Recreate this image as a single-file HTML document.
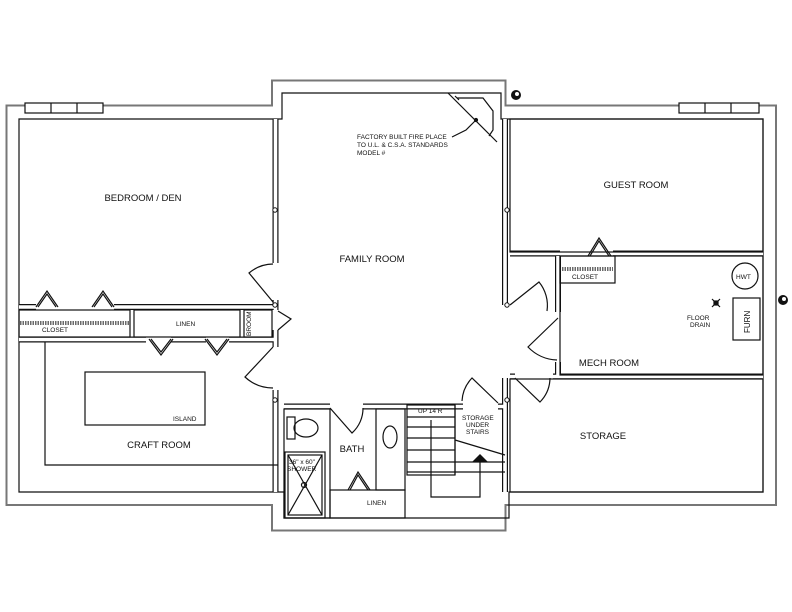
<!DOCTYPE html>
<html><head><meta charset="utf-8"><style>
html,body{margin:0;padding:0;background:#fff;}
svg{display:block;}
text{font-family:"Liberation Sans",sans-serif;fill:#111;}
</style></head><body>
<svg width="792" height="612" viewBox="0 0 792 612" xmlns="http://www.w3.org/2000/svg">
<defs>
<path id="walls" d="M275.5,119 V263 M275.5,300 V310 M275.5,330 V347 M275.5,390 V492
M505,119 V305 M505,378 V492
M19,307 H36 M114,307 H275
M19,339.5 H146 M171,339.5 H206 M229,339.5 H276
M284,406.5 H330 M363,406.5 H463 M498,406.5 H505
M558,256 V312 M558,362 V376
M510,376.5 H515 M553,376.5 H763
M510,253.5 H560 M613,253.5 H763"/>
</defs>
<path d="M11,110 H276.5 V85 H501 V110 H771.5 V500.5 H501 V526 H276.5 V500.5 H11 Z" fill="none" stroke="#777" stroke-width="11"/>
<path d="M11,110 H276.5 V85 H501 V110 H771.5 V500.5 H501 V526 H276.5 V500.5 H11 Z" fill="#fff" stroke="#fff" stroke-width="7"/>
<path d="M19,119 H282 V93 H501 V119 H763 V492 H509 V518 H284 V492 H19 Z" fill="none" stroke="#111" stroke-width="1.2"/>
<use href="#walls" stroke="#111" stroke-width="6" fill="none"/>
<use href="#walls" stroke="#fff" stroke-width="3.6" fill="none"/>

<g fill="none" stroke="#111" stroke-width="1.2">
<rect x="25" y="103" width="78" height="10" fill="#fff"/>
<line x1="51" y1="103" x2="51" y2="113"/><line x1="77" y1="103" x2="77" y2="113"/>
<rect x="679" y="103" width="80" height="10" fill="#fff"/>
<line x1="705" y1="103" x2="705" y2="113"/><line x1="731" y1="103" x2="731" y2="113"/>
<rect x="19" y="310" width="111" height="27"/>
<line x1="20" y1="322" x2="129" y2="322" stroke-dasharray="1.5,1"/>
<line x1="20" y1="324" x2="129" y2="324" stroke-dasharray="1.5,1"/>
<rect x="134" y="310" width="106" height="27"/>
<rect x="244" y="310" width="28" height="27"/>
<path d="M36,307 L47,291 L58,307 M38,307 L47,294 L56,307"/>
<path d="M92,307 L103,291 L114,307 M94,307 L103,294 L112,307"/>
<path d="M149,339 L161,355 L173,339 M151,339 L161,352 L171,339"/>
<path d="M205,339 L217,355 L229,339 M207,339 L217,352 L227,339"/>
<path d="M588,256 L599,238 L611,256 M590,256 L599,241 L609,256"/>
<path d="M348,490 L358,472 L370,490 M350,490 L358,475 L368,490"/>
<rect x="560" y="256" width="55" height="27"/>
<line x1="562" y1="268" x2="613" y2="268" stroke-dasharray="1.5,1"/>
<line x1="562" y1="270" x2="613" y2="270" stroke-dasharray="1.5,1"/>
<path d="M45,342 V465 H278"/>
<rect x="85" y="372" width="120" height="53"/>
<rect x="560" y="256" width="203" height="119"/>
<rect x="510" y="379" width="253" height="113"/>
<rect x="510" y="119" width="253" height="133"/>
<circle cx="745" cy="276" r="13"/>
<rect x="733" y="298" width="27" height="42"/>
<path d="M712,299 L720,307 M720,299 L712,307"/>
<rect x="714" y="301" width="4" height="4" fill="#111"/>
<rect x="284" y="409" width="46" height="109"/>
<rect x="285" y="452" width="40" height="66"/>
<rect x="288" y="455" width="34" height="60"/>
<path d="M288,455 L322,515 M322,455 L288,515"/>
<circle cx="304" cy="485" r="2.5"/>
<rect x="287" y="417" width="8" height="22"/>
<ellipse cx="306" cy="428" rx="12" ry="9"/>
<rect x="376" y="409" width="29" height="81"/>
<ellipse cx="390" cy="437" rx="7" ry="11"/>
<rect x="330" y="490" width="75" height="28"/>
<rect x="407" y="405" width="48" height="70"/>
<path d="M407,417 H455 M407,427 H455 M407,438 H455 M407,450 H455 M407,462 H505 M407,472 H505"/>
<path d="M431,420 V497 H480 V458"/>
<path d="M455,405 V475 M455,440 L505,455"/>
<!-- doors -->
<path d="M273,302 L249,273 A38,38 0 0 1 273,264"/>
<path d="M278,311 L291,319 L278,330"/>
<path d="M273,347 L245,377 A41,41 0 0 0 273,388"/>
<path d="M330,408 L352,433 A33,33 0 0 0 363,408"/>
<path d="M498,403 L472,378 A36,36 0 0 0 462,401"/>
<path d="M510,305 L539,282 A37,37 0 0 1 547,311"/>
<path d="M558,318 L528,347 A42,42 0 0 0 557,360"/>
<path d="M515,378 L540,402 A35,35 0 0 0 550,378"/>
<path d="M448,93 L497,142"/>
<path d="M457,98 L483,98 L493,111 L493,130 L489,136 M455,96 L459,100"/>
<path d="M476,120 L466,130 L452,137"/>
<circle cx="476" cy="120" r="1.5" fill="#111"/>
</g>
<g fill="#fff" stroke="#111" stroke-width="1">
<circle cx="275" cy="210" r="2.2"/><circle cx="275" cy="305" r="2.2"/><circle cx="275" cy="400" r="2.2"/>
<circle cx="507" cy="210" r="2.2"/><circle cx="507" cy="305" r="2.2"/><circle cx="507" cy="400" r="2.2"/>
</g>
<circle cx="516" cy="95" r="5" fill="#111"/><circle cx="517" cy="94" r="2" fill="#fff"/>
<circle cx="783" cy="300" r="5" fill="#111"/><circle cx="784" cy="299" r="2" fill="#fff"/>

<g font-size="9.5" text-anchor="middle">
<text x="143" y="201">BEDROOM / DEN</text>
<text x="372" y="262">FAMILY ROOM</text>
<text x="636" y="188">GUEST ROOM</text>
<text x="159" y="448">CRAFT ROOM</text>
<text x="352" y="452">BATH</text>
<text x="609" y="366">MECH ROOM</text>
<text x="603" y="439">STORAGE</text>
</g>
<g font-size="6.5">
<text x="357" y="139">FACTORY BUILT FIRE PLACE</text>
<text x="357" y="147">TO U.L. &amp; C.S.A. STANDARDS</text>
<text x="357" y="155">MODEL #</text>
<text x="42" y="332">CLOSET</text>
<text x="176" y="326">LINEN</text>
<text x="173" y="421">ISLAND</text>
<text x="572" y="279">CLOSET</text>
<text x="736" y="279">HWT</text>
<text x="687" y="320">FLOOR</text>
<text x="690" y="327">DRAIN</text>
<text x="367" y="505">LINEN</text>
<text x="418" y="413">UP 14 R</text>
<text x="462" y="420">STORAGE</text>
<text x="466" y="427">UNDER</text>
<text x="466" y="434">STAIRS</text>
<text x="289" y="464">36" x 60"</text>
<text x="287" y="471">SHOWER</text>
<text transform="translate(251,336) rotate(-90)">BROOM</text>
<text font-size="8" transform="translate(750,333) rotate(-90)">FURN</text>
</g>
<polygon points="472,462 480,454 488,462" fill="#111"/>
</svg>
</body></html>
